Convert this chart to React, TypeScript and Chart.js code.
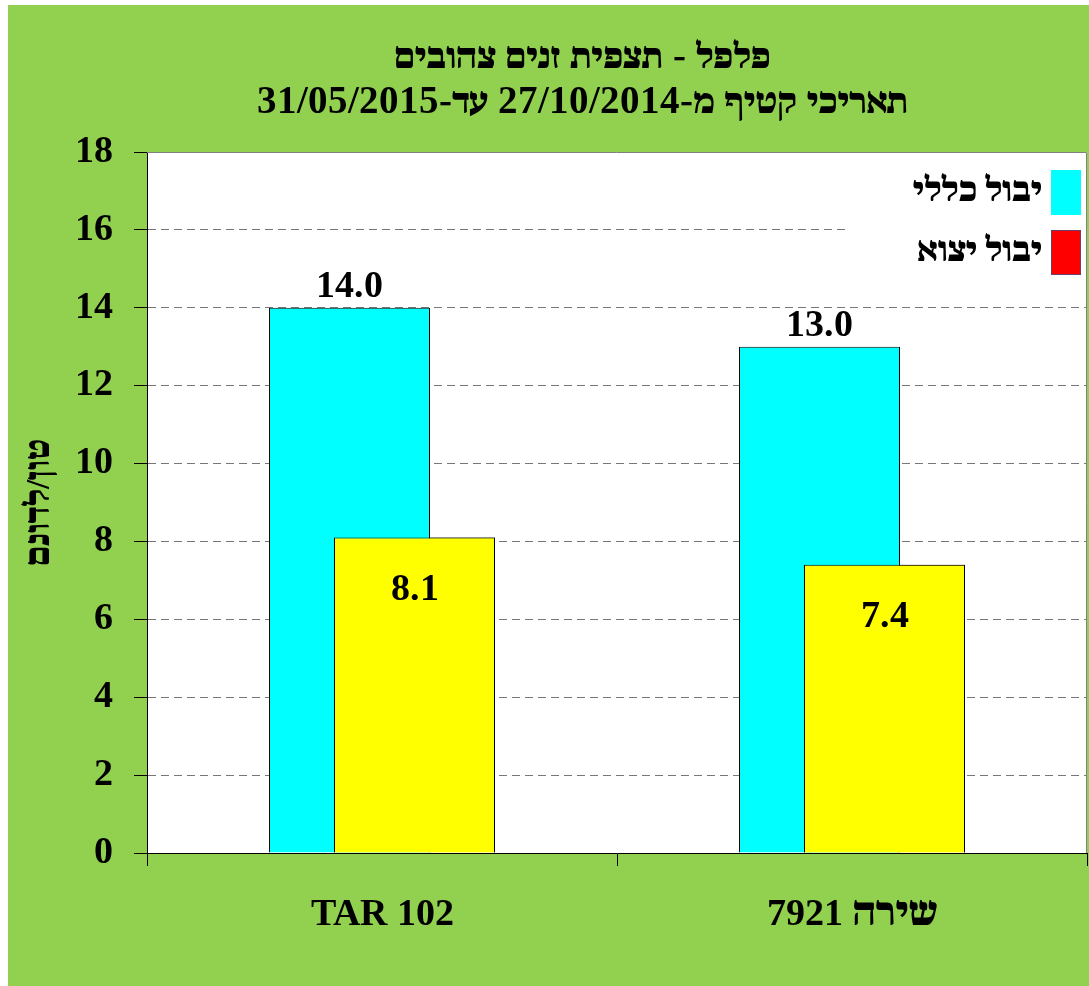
import React, { useEffect, useRef } from "react";
import { Chart, registerables } from "chart.js";

Chart.register(...registerables);

const categories = ["TAR 102", "שירה 7921"];
const seriesNames = ["יבול כללי", "יבול יצוא"];
const totalYield = [14.0, 13.0];
const exportYield = [8.1, 7.4];
const barColors = ["#00FFFF", "#FFFF00"];
const legendColors = ["#00FFFF", "#FF0000"];
const legendBorders = ["", "#6b3f6b"];
const titleLines = ["פלפל - תצפית זנים צהובים", "תאריכי קטיף מ-27/10/2014 עד-31/05/2015"];
const yAxisTitle = "טון/לדונם";
const yMin = 0;
const yMax = 18;
const yStep = 2;

const FONT_CSS = `@font-face { font-family: "LatinSerif"; font-weight: 700; font-style: normal;
  src: local("Liberation Serif Bold"), local("LiberationSerif-Bold");
  unicode-range: U+0000-024F, U+2000-206F; }
@font-face { font-family: "LatinSerifT"; font-weight: 700; font-style: normal;
  src: local("Liberation Serif Bold"), local("LiberationSerif-Bold");
  unicode-range: U+0000-024F, U+2000-206F; size-adjust: 115%; }`;
const FONT = '"LatinSerif", "Noto Serif Hebrew", "Liberation Serif", serif';
const TITLE_FONT = '"LatinSerifT", "Noto Serif Hebrew", "Liberation Serif", serif';
const GREEN = "#92D050";

const backgroundPlugin = {
  id: "bgPlugin",
  beforeDraw(chart: any) {
    const { ctx, chartArea, width, height } = chart;
    ctx.save();
    ctx.fillStyle = GREEN;
    ctx.fillRect(0, 0, width, height);
    ctx.fillStyle = "#FFFFFF";
    ctx.fillRect(chartArea.left, chartArea.top, chartArea.right - chartArea.left, chartArea.bottom - chartArea.top);
    ctx.restore();
  },
  beforeDatasetsDraw(chart: any) {
    const { ctx, chartArea } = chart;
    ctx.save();
    ctx.strokeStyle = "#808080";
    ctx.lineWidth = 1;
    ctx.beginPath();
    ctx.moveTo(chartArea.left, chartArea.top + 0.5);
    ctx.lineTo(chartArea.right - 0.5, chartArea.top + 0.5);
    ctx.lineTo(chartArea.right - 0.5, chartArea.bottom);
    ctx.stroke();
    ctx.restore();
  },
  afterDatasetsDraw(chart: any) {
    const { ctx, chartArea } = chart;
    // bring the second series (export yield) in front of the first, as in the original
    const frontMeta = chart.getDatasetMeta(1);
    if (frontMeta && frontMeta.controller) frontMeta.controller.draw();
    ctx.save();
    // data labels
    ctx.font = `bold 38px ${FONT}`;
    ctx.fillStyle = "#000";
    ctx.textAlign = "center";
    ctx.textBaseline = "alphabetic";
    chart.data.datasets.forEach((ds: any, di: number) => {
      const meta = chart.getDatasetMeta(di);
      meta.data.forEach((el: any, i: number) => {
        const txt = Number(ds.data[i]).toFixed(1);
        const y = di === 0 ? el.y - 11 : el.y + 62;
        ctx.fillText(txt, el.x, y);
      });
    });
    // legend
    const boxLeft = chartArea.left + 698;
    const boxTop = chartArea.top + 6;
    const boxRight = chartArea.right - 1;
    const boxBottom = chartArea.top + 143;
    ctx.fillStyle = "#FFFFFF";
    ctx.fillRect(boxLeft, boxTop, boxRight - boxLeft, boxBottom - boxTop);
    ctx.font = `900 33px ${FONT}`;
    ctx.textAlign = "right";
    ctx.textBaseline = "middle";
    seriesNames.forEach((name, i) => {
      const cy = chartArea.top + 40 + i * 60;
      const kx = chartArea.right - 36;
      ctx.fillStyle = legendColors[i];
      ctx.fillRect(kx, cy - 22, 30, 45);
      if (legendBorders[i]) {
        ctx.strokeStyle = legendBorders[i];
        ctx.lineWidth = 1;
        ctx.strokeRect(kx + 0.5, cy - 21.5, 29, 44);
      }
      ctx.fillStyle = "#000";
      ctx.fillText(name, kx - 9, cy);
    });
    ctx.restore();
  },
};

export default function App() {
  const ref = useRef<HTMLCanvasElement | null>(null);
  useEffect(() => {
    if (!ref.current) return;
    let chart: any = null;
    let cancelled = false;
    const style = document.createElement("style");
    style.textContent = FONT_CSS;
    document.head.appendChild(style);
    const build = () => {
      if (cancelled || !ref.current) return;
      chart = new Chart(ref.current, {
        type: "bar",
        data: {
          labels: categories,
          datasets: [
            {
              label: seriesNames[0],
              data: totalYield,
              backgroundColor: barColors[0],
              borderColor: "#000000",
              borderWidth: 1,
              categoryPercentage: 0.2766,
              barPercentage: 2.477,
            },
            {
              label: seriesNames[1],
              data: exportYield,
              backgroundColor: barColors[1],
              borderColor: "#000000",
              borderWidth: 1,
              categoryPercentage: 0.2766,
              barPercentage: 2.477,
            },
          ],
        },
        options: {
          responsive: false,
          animation: false,
          layout: { padding: { left: 70, right: 2, top: 0, bottom: 0 } },
          plugins: {
            legend: { display: false },
            tooltip: { enabled: false },
            title: {
              display: true,
              text: titleLines,
              color: "#000",
              font: { family: TITLE_FONT, size: 34, weight: "900", lineHeight: "45px" },
              padding: { top: 30, bottom: 27 },
            },
          },
          scales: {
            x: {
              afterFit(scale: any) {
                scale.height = 133;
              },
              grid: {
                offset: true,
                drawOnChartArea: false,
                drawTicks: true,
                tickLength: 13,
                color: "#000",
                tickColor: "#000",
              },
              border: { display: true, color: "#000", width: 1 },
              ticks: {
                color: "#000",
                padding: 26,
                font: { family: FONT, size: 38, weight: "900" },
              },
            },
            y: {
              min: yMin,
              max: yMax,
              afterFit(scale: any) {
                scale.width = 69;
              },
              grid: {
                color: (c: any) =>
                  c.tick && (c.tick.value === yMin || c.tick.value === yMax) ? "rgba(0,0,0,0)" : "#777777",
                tickColor: "#000",
                tickLength: 13,
                lineWidth: 1,
              },
              border: { display: true, color: "#000", width: 1, dash: [8, 5] },
              ticks: {
                stepSize: yStep,
                color: "#000",
                padding: 21,
                font: { family: FONT, size: 38, weight: "bold" },
              },
              title: {
                display: true,
                text: yAxisTitle,
                color: "#000",
                font: { family: FONT, size: 33, weight: "900" },
                padding: { top: -57, bottom: 0 },
              },
            },
          },
        },
        plugins: [backgroundPlugin],
      } as any);
    };
    const fontsApi: any = (document as any).fonts;
    if (fontsApi && fontsApi.load) {
      Promise.all([
        fontsApi.load('bold 36px "LatinSerif"', "0A"),
        fontsApi.load('bold 36px "LatinSerifT"', "0A"),
        fontsApi.load('900 36px "Noto Serif Hebrew"', "א"),
      ])
        .catch(() => null)
        .then(build);
    } else {
      build();
    }
    return () => {
      cancelled = true;
      if (chart) chart.destroy();
      style.remove();
    };
  }, []);
  return (
    <div style={{ position: "fixed", left: 8, top: 5, width: 1081, height: 981 }}>
      <canvas ref={ref} width={1081} height={981} dir="rtl" style={{ display: "block", direction: "rtl" }} />
    </div>
  );
}
